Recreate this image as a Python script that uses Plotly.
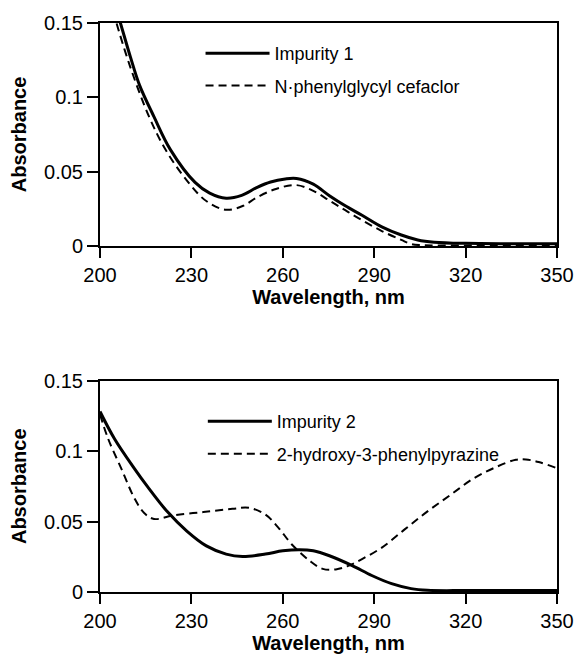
import plotly.graph_objects as go

# ---- data ----
imp1_wl = [205.5, 206.7, 210, 213, 217.7, 223.1, 231.2, 236, 241.4, 246.5, 251.6, 256, 260.8,
           264.5, 270, 275.3, 280.5, 286, 292.5, 298.9, 304.3, 309.7, 320, 335, 350]
imp1_abs = [0.158, 0.150, 0.127, 0.108, 0.087, 0.0648, 0.0427, 0.0355, 0.0321, 0.034, 0.0394, 0.043, 0.0450,
            0.0453, 0.0415, 0.0338, 0.027, 0.0206, 0.0128, 0.0073, 0.004, 0.0025, 0.0017, 0.0015, 0.0015]

npc_wl = [204.3, 205.4, 210, 216.1, 221.5, 229, 235, 241.4, 247, 251.6, 258, 264.5,
          270, 275.3, 280.5, 286, 292.5, 298.9, 302.1, 305, 320, 350]
npc_abs = [0.158, 0.150, 0.120, 0.087, 0.0648, 0.0427, 0.030, 0.0243, 0.027, 0.0327, 0.0385, 0.0409,
           0.037, 0.0305, 0.024, 0.0173, 0.010, 0.004, 0.0013, 0.0005, 0.0003, 0.0003]

imp2_wl = [200, 204.8, 211.3, 215.6, 222, 228.5, 234.9, 241.4, 246.8, 254.3, 260, 265.5, 270,
           275.3, 282.8, 289.2, 295.7, 302.1, 307.5, 320, 335, 350]
imp2_abs = [0.128, 0.1085, 0.0875, 0.0747, 0.0572, 0.0432, 0.0327, 0.0269, 0.0252, 0.0269, 0.0292, 0.030, 0.0292,
            0.0257, 0.0187, 0.0117, 0.0059, 0.0024, 0.0012, 0.001, 0.001, 0.001]

hpp_wl = [200, 202.7, 207, 211.3, 214.5, 217.7, 224.2, 233.9, 243.5, 248.9, 254.3, 258.6, 262.9,
          268.8, 273.1, 277.4, 281.7, 286, 292.5, 300, 307.5, 315, 322.6, 330.1, 336.5, 339.8, 344, 350]
hpp_abs = [0.126, 0.1085, 0.0875, 0.0665, 0.056, 0.0518, 0.0544, 0.0567, 0.059, 0.0597, 0.0549, 0.0455, 0.0339,
           0.0222, 0.0164, 0.016, 0.0187, 0.0234, 0.0315, 0.0444, 0.0572, 0.0688, 0.0805, 0.0887, 0.0938, 0.094, 0.0922, 0.0878]

x_ticks = [200, 230, 260, 290, 320, 350]
y_ticks = [0, 0.05, 0.1, 0.15]
y_tick_text = ["0", "0.05", "0.1", "0.15"]

FONT = "Liberation Sans, Arial, Helvetica, sans-serif"

fig = go.Figure()


def line(x, y, name, dashed, xa, ya, leg, grp):
    return go.Scatter(
        x=x, y=y, name=name, mode="lines", xaxis=xa, yaxis=ya, legend=leg, legendgroup=grp,
        line=dict(color="black", width=2 if dashed else 3, dash="8px,5px" if dashed else "solid",
                  shape="spline", smoothing=1.0),
        hoverinfo="skip",
    )


fig.add_trace(line(imp1_wl, imp1_abs, "Impurity 1", False, "x", "y", "legend", "a"))
fig.add_trace(line(npc_wl, npc_abs, "N·phenylglycyl cefaclor", True, "x", "y", "legend", "b"))
fig.add_trace(line(imp2_wl, imp2_abs, "Impurity 2", False, "x2", "y2", "legend2", "c"))
fig.add_trace(line(hpp_wl, hpp_abs, "2-hydroxy-3-phenylpyrazine", True, "x2", "y2", "legend2", "d"))

xcommon = dict(range=[200, 350], tickvals=x_ticks, showline=True, linewidth=2, linecolor="black",
               mirror=True, ticks="outside", ticklen=10, tickwidth=2, tickcolor="black",
               showgrid=False, zeroline=False, tickfont=dict(size=20, color="black", family=FONT),
               title=dict(text="<b>Wavelength, nm</b>", font=dict(size=20, color="black", family=FONT),
                          standoff=2))

ycommon = dict(range=[0, 0.15], tickvals=y_ticks, ticktext=y_tick_text, showline=True, linewidth=2,
               linecolor="black", mirror=True, ticks="outside", ticklen=11, tickwidth=2,
               tickcolor="black", showgrid=False, zeroline=False,
               tickfont=dict(size=20, color="black", family=FONT),
               title=dict(text="<b>Absorbance</b>", font=dict(size=20, color="black", family=FONT),
                          standoff=12))

legcommon = dict(xanchor="left", yanchor="top", bgcolor="rgba(0,0,0,0)", borderwidth=0,
                 font=dict(size=18, color="black", family=FONT), itemwidth=64, tracegroupgap=6)

fig.update_layout(
    width=586, height=660,
    margin=dict(l=100, r=21, t=20, b=63),
    paper_bgcolor="white", plot_bgcolor="white",
    font=dict(family=FONT, color="black"),
    xaxis=dict(domain=[0, 1], anchor="y", **xcommon),
    yaxis=dict(domain=[0.6083, 1], anchor="x", **ycommon),
    xaxis2=dict(domain=[0, 1], anchor="y2", **xcommon),
    yaxis2=dict(domain=[0, 0.3717], anchor="x2", **ycommon),
    legend=dict(x=0.22, y=0.979, **legcommon),
    legend2=dict(x=0.225, y=0.332, **legcommon),
    showlegend=True,
)

fig.write_html("out.html")
